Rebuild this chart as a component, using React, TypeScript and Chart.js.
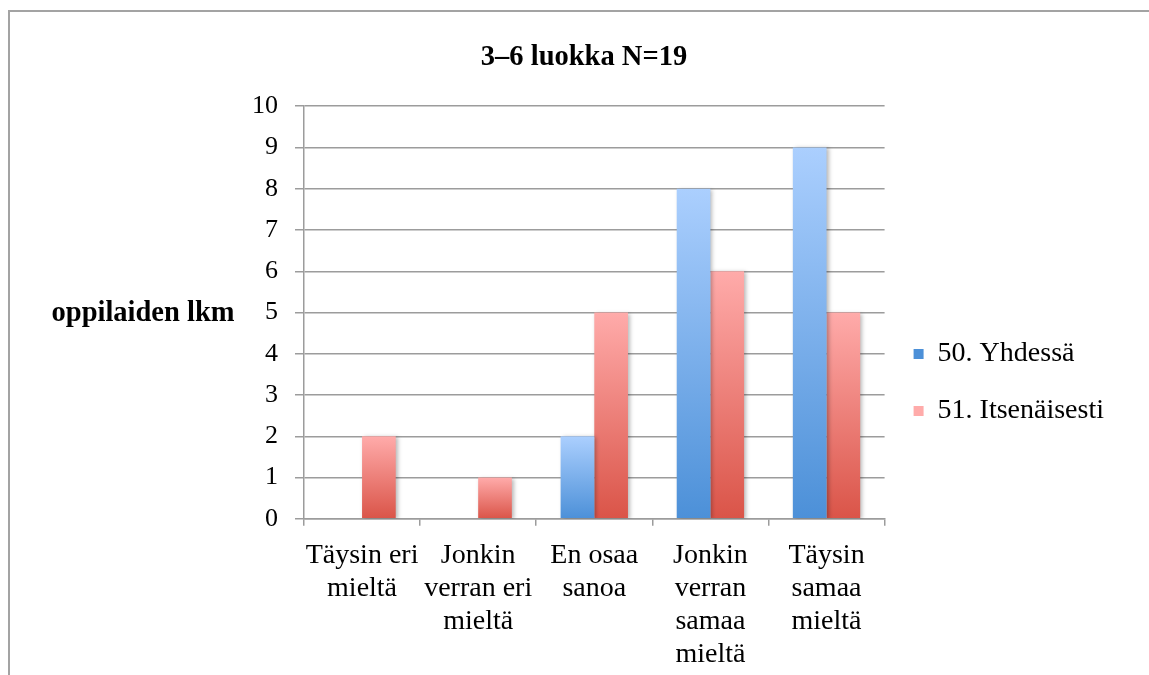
import React, { useEffect, useRef } from "react";
import { Chart, registerables } from "chart.js";

Chart.register(...registerables);

const categories: string[][] = [
  ["Täysin eri", "mieltä"],
  ["Jonkin", "verran eri", "mieltä"],
  ["En osaa", "sanoa"],
  ["Jonkin", "verran", "samaa", "mieltä"],
  ["Täysin", "samaa", "mieltä"],
];
const seriesNames = ["50. Yhdessä", "51. Itsenäisesti"];
const yhdessa = [0, 0, 2, 8, 9];
const itsenaisesti = [2, 1, 5, 6, 5];
const yTicks = [0, 1, 2, 3, 4, 5, 6, 7, 8, 9, 10];
const titleText = "3–6 luokka N=19";
const yTitleText = "oppilaiden lkm";

const FONT = "'Liberation Serif', 'Times New Roman', serif";

function gradientFill(top: string, bottom: string, legendColor: string) {
  return (ctx: any) => {
    const chart = ctx.chart;
    if (ctx.type !== "data" || !chart.chartArea) return legendColor;
    const y = chart.scales.y;
    const v = ctx.parsed ? ctx.parsed.y : 0;
    const t = y.getPixelForValue(v);
    const b = y.getPixelForValue(0);
    if (Math.abs(b - t) < 1) return bottom;
    const g = chart.ctx.createLinearGradient(0, t, 0, b);
    g.addColorStop(0, top);
    g.addColorStop(1, bottom);
    return g;
  };
}

const shadowPlugin = {
  id: "barShadow",
  beforeDatasetsDraw(chart: any) {
    const c = chart.ctx;
    c.save();
    c.shadowColor = "rgba(0,0,0,0.28)";
    c.shadowBlur = 4;
    c.shadowOffsetX = 2;
    c.shadowOffsetY = 1;
  },
  afterDatasetsDraw(chart: any) {
    chart.ctx.restore();
  },
};

const yTitlePlugin = {
  id: "yTitleHorizontal",
  afterDraw(chart: any) {
    const c = chart.ctx;
    const area = chart.chartArea;
    c.save();
    c.font = `bold 28.5px ${FONT}`;
    c.fillStyle = "#000";
    c.textAlign = "center";
    c.textBaseline = "middle";
    c.fillText(yTitleText, 133, (area.top + area.bottom) / 2 + 1);
    c.restore();
  },
};

export default function App() {
  const ref = useRef<HTMLCanvasElement | null>(null);
  useEffect(() => {
    if (!ref.current) return;
    const chart = new Chart(ref.current, {
      type: "bar",
      data: {
        labels: categories,
        datasets: [
          {
            label: seriesNames[0],
            data: yhdessa,
            backgroundColor: gradientFill("#abcffe", "#4c90d8", "#6ea9ea"),
            borderWidth: 0,
            categoryPercentage: 0.58,
            barPercentage: 1.0,
          },
          {
            label: seriesNames[1],
            data: itsenaisesti,
            backgroundColor: gradientFill("#ffabaa", "#da5448", "#ee8079"),
            borderWidth: 0,
            categoryPercentage: 0.58,
            barPercentage: 1.0,
          },
        ],
      },
      plugins: [shadowPlugin, yTitlePlugin],
      options: {
        animation: false,
        responsive: true,
        maintainAspectRatio: false,
        layout: { padding: { left: 44, right: 35, top: 0, bottom: -9 } },
        plugins: {
          title: {
            display: true,
            text: titleText,
            color: "#000",
            font: { family: FONT, size: 28.5, weight: "bold", lineHeight: 1.2 },
            padding: { top: 29, bottom: 31 },
          },
          legend: {
            position: "right",
            align: "start",
            title: {
              display: true,
              text: " ",
              font: { size: 12, lineHeight: 1.2 },
              padding: { top: 284.6, bottom: 0 },
            },
            labels: {
              boxWidth: 10,
              boxHeight: 10,
              padding: 29,
              color: "#000",
              font: { family: FONT, size: 28 },
            },
          },
          tooltip: { enabled: false },
        },
        scales: {
          x: {
            offset: true,
            grid: {
              display: true,
              drawOnChartArea: false,
              offset: true,
              tickLength: 7,
              color: "#9c9c9c",
              lineWidth: 1.5,
            },
            border: { display: true, color: "#9c9c9c", width: 1.5 },
            ticks: {
              color: "#000",
              padding: 13,
              maxRotation: 0,
              autoSkip: false,
              font: { family: FONT, size: 28, lineHeight: 1.18 },
            },
          },
          y: {
            min: 0,
            max: 10,
            afterBuildTicks: (axis: any) => {
              axis.ticks = yTicks.map((v) => ({ value: v }));
            },
            afterFit: (axis: any) => {
              axis.width = 250;
            },
            grid: {
              color: "#9c9c9c",
              lineWidth: 1.5,
              tickLength: 9,
            },
            border: { display: true, color: "#9c9c9c", width: 1.5 },
            ticks: {
              color: "#000",
              padding: 17,
              font: { family: FONT, size: 26 },
            },
          },
        },
      },
    } as any);
    return () => chart.destroy();
  }, []);

  return (
    <div
      style={{
        position: "absolute",
        left: 8,
        top: 10,
        width: 1141,
        height: 665,
        borderTop: "2px solid #a3a3a3",
        borderLeft: "2px solid #a3a3a3",
        boxSizing: "border-box",
        background: "#fff",
      }}
    >
      <div style={{ position: "relative", width: 1139, height: 663 }}>
        <canvas ref={ref} />
      </div>
    </div>
  );
}
